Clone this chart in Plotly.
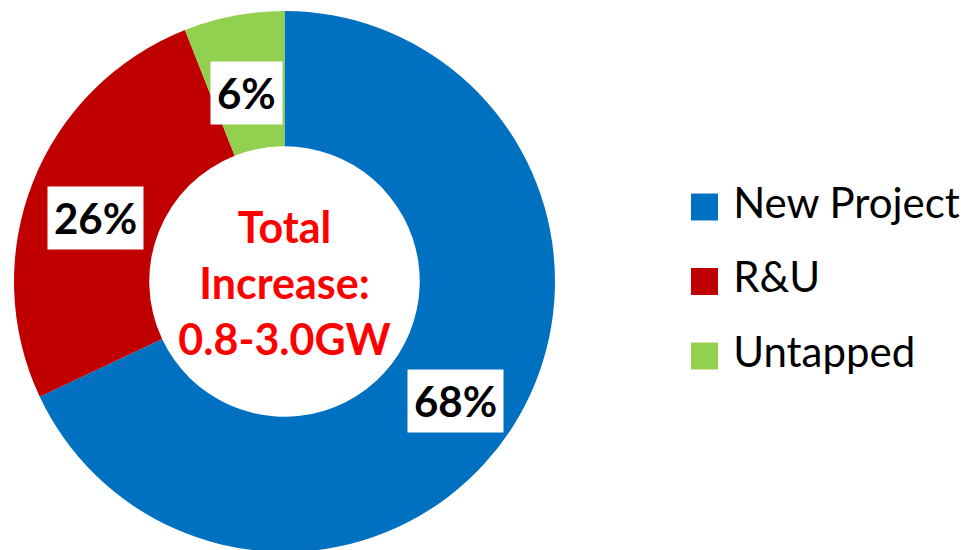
import math
import plotly.graph_objects as go

# ---- data ----
categories = ["New Project", "R&U", "Untapped"]
shares = [68, 26, 6]
colors = ["#0070C0", "#C00000", "#92D050"]
center_lines = ["Total", "Increase:", "0.8-3.0GW"]

W, H = 973, 563
HOLE = 0.5
dom_x = [14 / W, 555 / W]
dom_y = [0.0, 1.0]

fig = go.Figure()
fig.add_trace(go.Pie(
    labels=categories, values=shares, hole=HOLE, sort=False,
    direction="clockwise", rotation=0,
    marker=dict(colors=colors, line=dict(width=0)),
    textinfo="none", hoverinfo="label+percent", showlegend=False,
    domain=dict(x=dom_x, y=dom_y),
    title=dict(text="<br>".join(center_lines), position="middle center",
               font=dict(family="Lato", size=43, color="#FF0000", weight="bold")),
))

# percentage labels in white boxes, placed at the middle of each ring segment
cx = (dom_x[0] + dom_x[1]) / 2 * W
cy_px = (1 - (dom_y[0] + dom_y[1]) / 2) * H
R = min((dom_x[1] - dom_x[0]) * W, (dom_y[1] - dom_y[0]) * H) / 2
r_mid = R * (1 + HOLE) / 2
total = sum(shares)
cum = 0
for v in shares:
    mid = (cum + v / 2) / total * 2 * math.pi
    cum += v
    px = cx + r_mid * math.sin(mid)
    py = cy_px - r_mid * math.cos(mid)
    fig.add_annotation(
        x=px / W, y=1 - py / H, xref="paper", yref="paper",
        xanchor="center", yanchor="middle", yshift=-11,
        text=f"{round(v / total * 100)}%", showarrow=False,
        font=dict(family="Lato", size=42, color="black", weight="bold"),
        bgcolor="white", borderpad=6,
    )

# custom legend with large square swatches
fig.add_trace(go.Scatter(
    x=[0] * len(categories), y=list(range(len(categories))),
    mode="markers+text", text=[" " + c for c in categories],
    textposition="middle right",
    marker=dict(symbol="square", size=27, color=colors),
    textfont=dict(family="Lato", size=42, color="black"),
    cliponaxis=False, hoverinfo="skip", showlegend=False,
))

fig.update_layout(
    width=W, height=H, margin=dict(l=0, r=0, t=0, b=0),
    paper_bgcolor="white", plot_bgcolor="rgba(0,0,0,0)",
    xaxis=dict(domain=[704.5 / W, 1], range=[0, 1], visible=False, fixedrange=True),
    yaxis=dict(domain=[0, 1], range=[(H - 207) / 74.5, -207 / 74.5],
               visible=False, fixedrange=True),
)

fig.write_html("out.html")
